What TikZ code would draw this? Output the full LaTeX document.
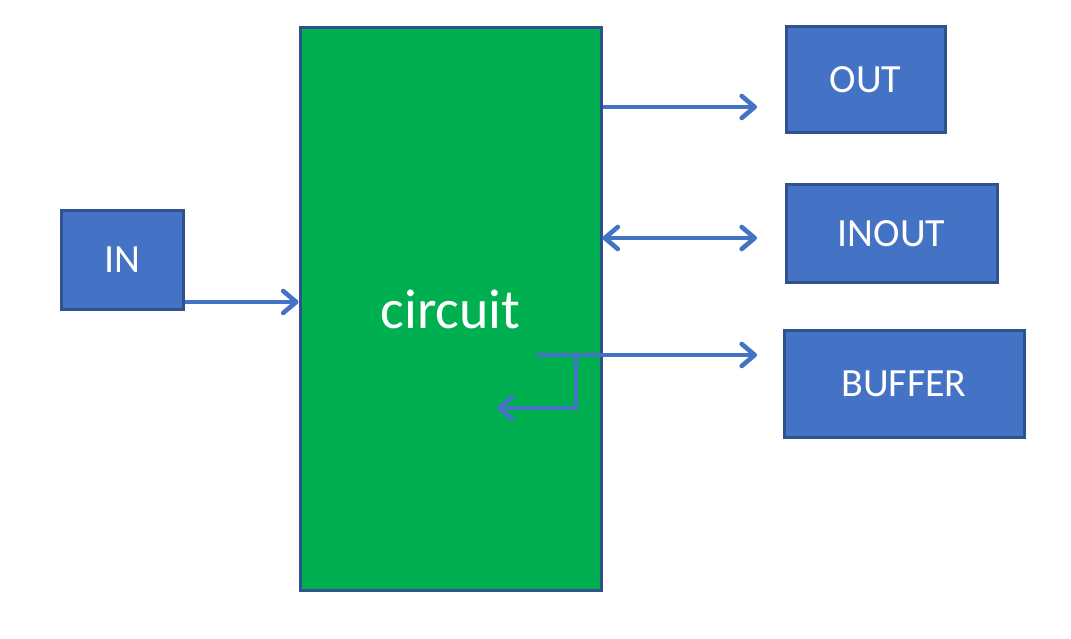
\documentclass[tikz,border=0pt]{standalone}
\usepackage{fontspec}
\setmainfont{Carlito}
\usetikzlibrary{arrows.meta}
\definecolor{circgreen}{HTML}{00B050}
\definecolor{portblue}{HTML}{4472C4}
\definecolor{portedge}{HTML}{2F528F}
\tikzset{
	port/.style={draw=portedge, fill=portblue, line width=3pt, text=white, font=\fontsize{40}{48}\selectfont, inner sep=0pt},
	barb/.tip={Straight Barb[length=13pt,width=22pt,line cap=round,line join=round]},
	conn/.style={draw=portblue, line width=4.6pt, arrows={-barb}},
}
\begin{document}
	\begin{tikzpicture}[x=1pt,y=-1pt]
		\useasboundingbox (0,0) rectangle (1071,639);
		\node[draw=portedge, fill=circgreen, line width=3pt, text=white, font=\fontsize{56}{66}\selectfont, minimum width=301pt, minimum height=562pt, inner sep=0pt] (circuit) at (450.5,309) {circuit};
		\node[port, minimum width=122pt, minimum height=98pt] (in) at (122,260) {IN};
		\node[port, minimum width=159pt, minimum height=106pt] (out) at (865.5,80) {OUT};
		\node[port, minimum width=211pt, minimum height=97pt] (inout) at (891.5,233.5) {INOUT};
		\node[port, minimum width=240pt, minimum height=107pt] (buffer) at (904,383.5) {BUFFER};
		
		\coordinate (inlevel) at (0,302);
		\coordinate (outtip) at (757,107);
		\coordinate (inouttip) at (757,238);
		\coordinate (buftip) at (757,355);
		\coordinate (bufstart) at (536,355);
		\coordinate (bufbend) at (576,408);
		\coordinate (buftail) at (497,408);
		
		\draw[conn] (in.east |- inlevel) -- (circuit.west |- inlevel);
		\draw[conn] (circuit.east |- outtip) -- (outtip);
		\draw[conn, arrows={barb-barb}] (circuit.east |- inouttip) -- (inouttip);
		\draw[conn] (bufstart) -- (buftip);
		\draw[conn] (bufbend |- bufstart) -- (bufbend) -- (buftail);
	\end{tikzpicture}
\end{document}
